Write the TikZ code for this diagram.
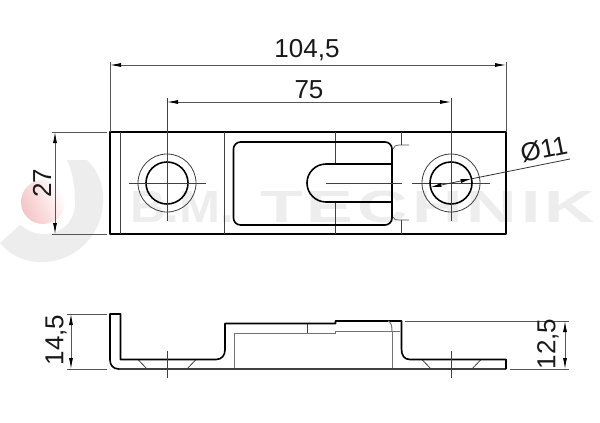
\documentclass[tikz,border=0pt]{standalone}
\usepackage{fontspec}
\setmainfont{Liberation Sans}
\usetikzlibrary{arrows.meta,calc}
\definecolor{wmgray}{HTML}{EDEDED}
\definecolor{dimc}{HTML}{555555}
\definecolor{wmpink}{HTML}{F6C4C4}
\tikzset{
  px/.style={x=1pt,y=-1pt},
  thick line/.style={draw=black,line width=1.6pt,line join=round},
  thin line/.style={draw=black!75,line width=0.8pt},
  hid line/.style={draw=black!55,line width=1pt},
  dimension/.style={draw=dimc,line width=0.8pt,{Latex[length=11pt,width=4pt,black]}-{Latex[length=11pt,width=4pt,black]}},
  ext/.style={draw=dimc,line width=0.7pt},
  dimtext/.style={font=\fontsize{26}{26}\selectfont,inner sep=0pt,text=black!90},
  wm/.style={font=\fontsize{45}{45}\bfseries\selectfont,text=wmgray,inner sep=0pt,anchor=base west},
}
\begin{document}
\begin{tikzpicture}[px]
\useasboundingbox (0,0) rectangle (600,423);
\fill[white] (0,0) rectangle (600,423);
% watermark
\fill[wmgray] (87,160) .. controls (99,172) and (104,186) .. (103,203) .. controls (101,240) and (70,264) .. (38,262) .. controls (22,261) and (9,254) .. (0,243) -- (20,225) .. controls (29,232) and (38,235) .. (47,234) .. controls (66,232) and (76,218) .. (75,200) .. controls (75,185) and (72,170) .. (67,160) -- cycle;
\shade[left color=wmpink,right color=white,shading angle=115] (43,202) circle (22);
\node[wm] (brand1) at (130,222) {\scalebox{1.09}[1]{B.M.}};
\node[wm] (brand2) at (260,222) {\addfontfeature{LetterSpace=6}\scalebox{1.55}[1]{TECHNIK}};
% top view
\draw[thick line] (110,132) rectangle (506,234);
\coordinate (h1) at (167,183);
\coordinate (h2) at (451,183);
\draw[thin line] (120,132) -- (120,234);
\draw[thin line] (224,132) -- (224,234);
\draw[thin line] (335.5,132) -- (335.5,164);
\draw[thin line] (335.5,202) -- (335.5,234);
\draw[thin line] (401.5,132) -- (401.5,145);
\draw[thin line] (401.5,220) -- (401.5,234);
\draw[thick line,rounded corners=7pt] (392,180) -- (392,142) -- (233.5,142) -- (233.5,225) -- (392,225) -- cycle;
\draw[thick line] (392,164) -- (326,164) arc[start angle=-90,end angle=-270,radius=19] -- (392,202);
\draw[ext] (393,149) .. controls (394,146) and (396,145) .. (399,145) -- (409,145);
\draw[ext] (393,217) .. controls (394,220) and (396,220) .. (399,220) -- (409,220);
\draw[thin line] (326,183) -- (402,183);
\draw[thin line] (412,183) -- (490,183);
\foreach \h in {h1,h2}{
  \draw[thick line] (\h) circle (21);
  \draw[thin line] (\h) circle (29);
}
\draw[thin line] (129,183) -- (206,183);
\draw[thin line] (167,221) -- (167,98);
\draw[thin line] (451,221) -- (451,98);
% diameter
\coordinate (d1) at (430.4,187.2);
\coordinate (d2) at (471.6,178.8);
\coordinate (d3) at (570,159);
\draw[draw=black!80,line width=0.8pt,{Latex[length=11pt,width=4pt,black]}-{Latex[length=11pt,width=4pt,black]}] (d1) -- (d2);
\draw[draw=black!80,line width=0.8pt] (d2) -- (d3);
\node[dimtext,rotate=11.4] (dia) at (544,149.5) {Ø11};
% dims top
\draw[ext] (110,132) -- (110,62);
\draw[ext] (506,132) -- (506,62);
\draw[dimension] (110,65) -- (506,65);
\node[dimtext] (w) at (307,50) {104,5};
\draw[dimension] (167,102) -- (451,102);
\node[dimtext] (c) at (309,90) {75};
\draw[ext] (107,132) -- (52,132);
\draw[ext] (107,234) -- (52,234);
\draw[dimension] (55,132) -- (55,234);
\node[dimtext,rotate=90] (h) at (42,183) {27};
% side view
\draw[hid line] (234,369) -- (234,333) -- (335.5,333) -- (335.5,331) -- (400,331);
\draw[hid line] (392,369) -- (392,331);
\draw[thin line] (307,323.5) -- (307,333);
\draw[thin line] (138,359.5) -- (147,369);
\draw[thin line] (196,359.5) -- (187,369);
\draw[thin line] (422,359.5) -- (431,369);
\draw[thin line] (481,359.5) -- (472,369);
\draw[draw=black!75,line width=1.4pt] (118,369) -- (506,369);
\draw[thick line] (119,369) .. controls (113,369) and (110,365) .. (110,360) -- (110,314) -- (120.5,314) -- (120.5,359.5) -- (216,359.5) .. controls (222,359.5) and (225,355) .. (225,350) -- (225,323.5) -- (335.5,323.5) -- (335.5,321) -- (401.5,321) -- (401.5,349) .. controls (401.5,355) and (404,359.5) .. (410,359.5) -- (506,359.5) -- (506,369);
\draw[hid line] (388,321) .. controls (391,322) and (392,326) .. (392,331);
\draw[thin line] (167,351) -- (167,378);
\draw[thin line] (451,351) -- (451,378);
% dims side
\draw[ext] (107,314) -- (67,314);
\draw[ext] (107,369) -- (67,369);
\draw[dimension] (71,314) -- (71,369);
\node[dimtext,rotate=90] (h2t) at (56,340) {14,5};
\draw[ext] (405,321) -- (569,321);
\draw[ext] (510,369) -- (569,369);
\draw[dimension] (565,321) -- (565,369);
\node[dimtext,rotate=90] (h3t) at (548,344) {12,5};
\end{tikzpicture}
\end{document}
